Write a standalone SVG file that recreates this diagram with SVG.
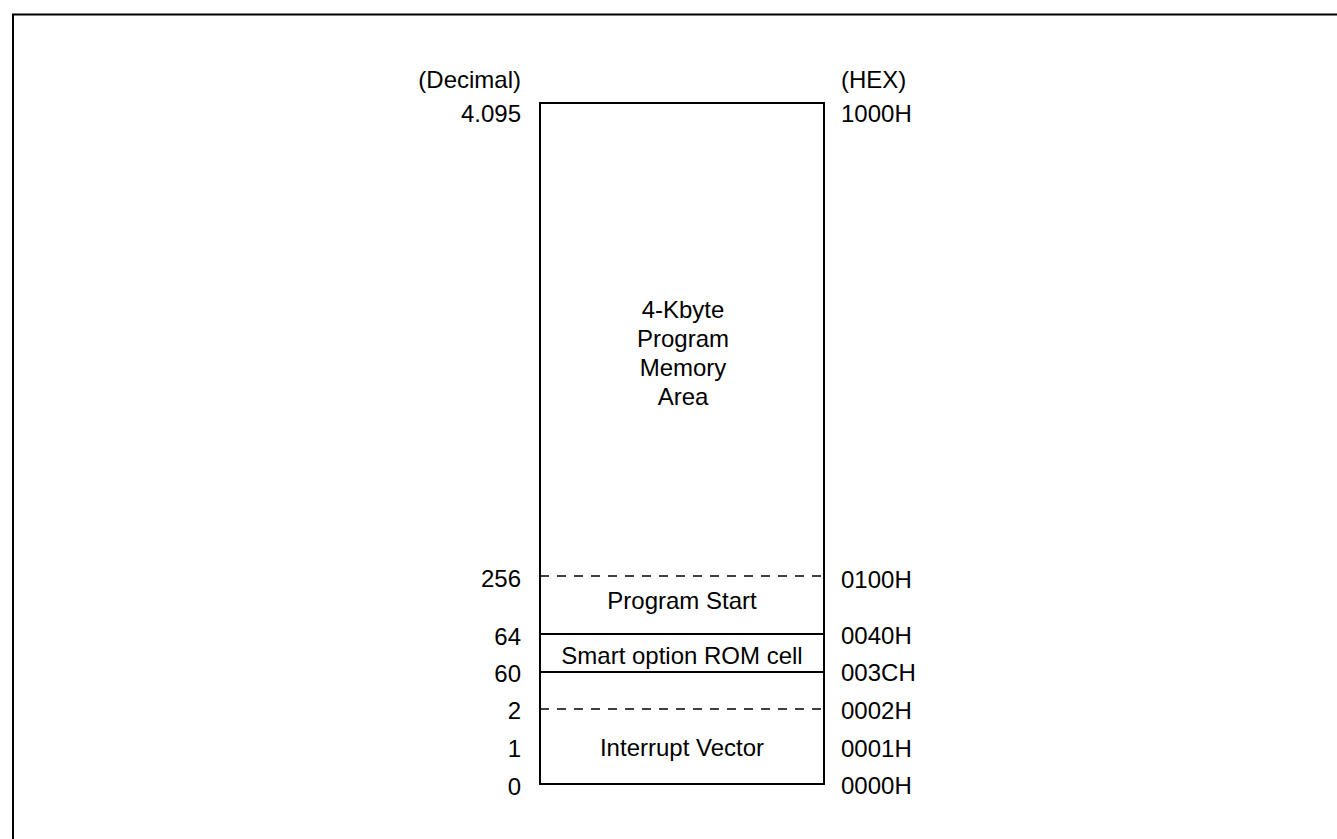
<svg xmlns="http://www.w3.org/2000/svg" width="1337" height="839" viewBox="0 0 1337 839">
  <style>
    text { font-family: "Liberation Sans", Arial, sans-serif; font-size: 24px; fill: #000; }
    .l { text-anchor: end; }
    .r { text-anchor: start; }
    .c { text-anchor: middle; }
    .solid { stroke: #000; stroke-width: 2; fill: none; }
    .dash { stroke: #000; stroke-width: 1.6; fill: none; stroke-dasharray: 9 8; }
  </style>
  <rect x="0" y="0" width="1337" height="839" fill="#fff"/>
  <path d="M13,839 V14.5 H1337" class="solid" stroke-width="2.2"/>

  <g id="memory-map">
    <rect x="540" y="103" width="284" height="681" class="solid"/>
  </g>

  <g id="separators">
    <line x1="540" y1="576" x2="824" y2="576" class="dash"/>
    <line x1="540" y1="634" x2="824" y2="634" class="solid"/>
    <line x1="540" y1="672" x2="824" y2="672" class="solid"/>
    <line x1="540" y1="709" x2="824" y2="709" class="dash"/>
  </g>

  <g id="area-main">
    <text class="c" x="683" y="318">4-Kbyte</text>
    <text class="c" x="683" y="347">Program</text>
    <text class="c" x="683" y="376">Memory</text>
    <text class="c" x="683" y="405">Area</text>
  </g>
  <g id="area-program-start">
    <text class="c" x="682" y="609">Program Start</text>
  </g>
  <g id="area-smart-option">
    <text class="c" x="682" y="664">Smart option ROM cell</text>
  </g>
  <g id="area-interrupt">
    <text class="c" x="682" y="756">Interrupt Vector</text>
  </g>

  <g id="decimal-labels">
    <text class="l" x="521" y="88">(Decimal)</text>
    <text class="l" x="521" y="122">4.095</text>
    <text class="l" x="521" y="587">256</text>
    <text class="l" x="521" y="645">64</text>
    <text class="l" x="521" y="682">60</text>
    <text class="l" x="521" y="719">2</text>
    <text class="l" x="521" y="757">1</text>
    <text class="l" x="521" y="795">0</text>
  </g>

  <g id="hex-labels">
    <text class="r" x="841" y="88">(HEX)</text>
    <text class="r" x="841" y="122">1000H</text>
    <text class="r" x="841" y="588">0100H</text>
    <text class="r" x="841" y="644">0040H</text>
    <text class="r" x="841" y="681">003CH</text>
    <text class="r" x="841" y="719">0002H</text>
    <text class="r" x="841" y="757">0001H</text>
    <text class="r" x="841" y="794">0000H</text>
  </g>
</svg>
